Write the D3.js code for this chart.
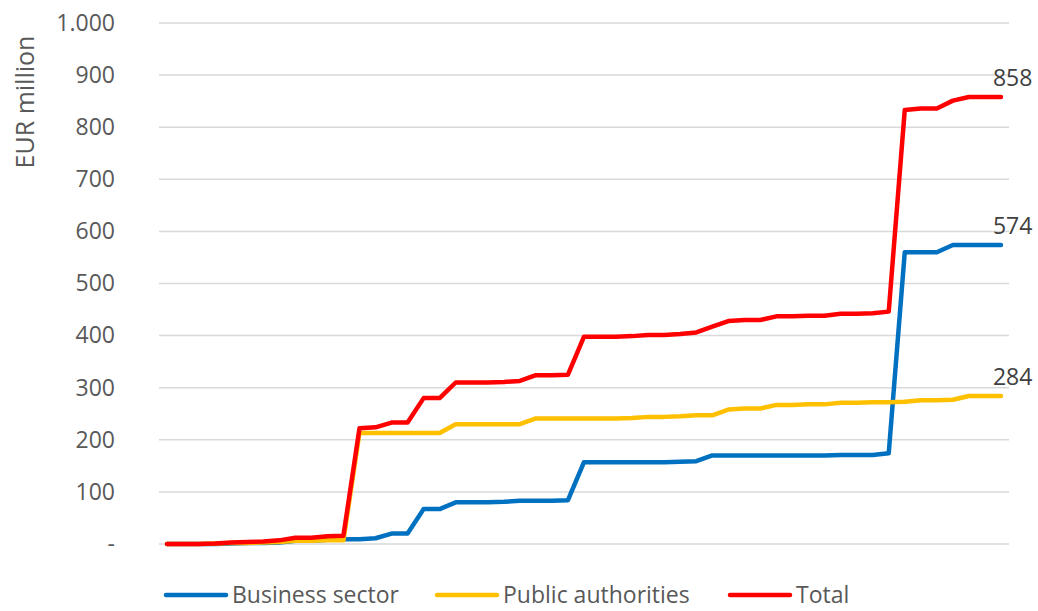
<!DOCTYPE html>
<html>
<head>
<meta charset="utf-8">
<script src="https://cdn.jsdelivr.net/npm/d3@7"></script>
<style>
  html, body { margin: 0; padding: 0; background: #fff; }
  svg { display: block; font-family: "Open Sans", sans-serif; }
</style>
</head>
<body>
<svg id="chart" width="1038" height="611"></svg>
<script>
// ---- data ----
const periods = d3.range(1, 54).map(String); // 53 unlabeled periods
const businessSector = [0,0,0,0,1,2,2,3,6,6,8,9,9,11,20,20,67,67,80,80,80,81,83,83,83,84,157,157,157,157,157,157,158,159,170,170,170,170,170,170,170,170,171,171,171,174,560,560,560,574,574,574,574];
const publicAuthorities = [0,0,0,1,2,2,3,4,6,6,7,7,213,213,213,213,213,213,230,230,230,230,230,241,241,241,241,241,241,242,244,244,245,247,247,258,260,260,267,267,268,268,271,271,272,272,273,276,276,277,284,284,284];
const total = [0,0,0,1,3,4,5,7,12,12,15,16,222,224,233,233,280,280,310,310,310,311,313,324,324,325,398,398,398,399,401,401,403,406,417,428,430,430,437,437,438,438,442,442,443,446,833,836,836,851,858,858,858];
const yTicks = [0,100,200,300,400,500,600,700,800,900,1000];
const seriesNames = ["Business sector", "Public authorities", "Total"];
const seriesColors = ["#0070C0", "#FFC000", "#FF0000"];
const seriesValues = [businessSector, publicAuthorities, total];

// ---- layout ----
const svg = d3.select("#chart");
const plot = { left: 159, right: 1009, top: 23, bottom: 544 };

const x = d3.scalePoint().domain(periods).range([plot.left, plot.right]).padding(0.5);
const y = d3.scaleLinear().domain([0, 1000]).range([plot.bottom, plot.top]);

const fmt = v => v === 0 ? "-" : d3.format(",")(v).replace(/,/g, ".");

// gridlines
svg.append("g")
  .selectAll("line")
  .data(yTicks)
  .join("line")
  .attr("x1", plot.left).attr("x2", plot.right)
  .attr("y1", d => y(d)).attr("y2", d => y(d))
  .attr("stroke", "#D9D9D9").attr("stroke-width", 1.5);

// y axis labels
const yAxis = d3.axisLeft(y).tickValues(yTicks).tickFormat(fmt).tickSize(0).tickPadding(0);
const gy = svg.append("g").attr("transform", "translate(115,0)").call(yAxis);
gy.select(".domain").remove();
gy.selectAll("text")
  .attr("fill", "#595959")
  .style("font-size", "23px")
  .style("font-family", "'Open Sans', sans-serif");

// y axis title
svg.append("text")
  .attr("transform", "translate(25,102) rotate(-90)")
  .attr("text-anchor", "middle")
  .attr("dy", "0.35em")
  .attr("fill", "#595959")
  .style("font-size", "25px")
  .text("EUR million");

// lines
const line = d3.line().x((d, i) => x(periods[i])).y(d => y(d));
svg.append("g")
  .selectAll("path")
  .data(seriesValues)
  .join("path")
  .attr("d", d => line(d))
  .attr("fill", "none")
  .attr("stroke", (d, i) => seriesColors[i])
  .attr("stroke-width", 4.5)
  .attr("stroke-linejoin", "round")
  .attr("stroke-linecap", "round");

// end labels
svg.append("g")
  .selectAll("text")
  .data(seriesValues)
  .join("text")
  .attr("x", d => x(periods[periods.length - 1]) - 8)
  .attr("y", d => y(d[d.length - 1]) - 11)
  .attr("fill", "#404040")
  .style("font-size", "23px")
  .text(d => d[d.length - 1]);

// legend
const legendX = [166, 437, 730];
const lg = svg.append("g")
  .selectAll("g")
  .data(seriesNames)
  .join("g")
  .attr("transform", (d, i) => `translate(${legendX[i]},595)`);
lg.append("line")
  .attr("x1", 0).attr("x2", 60)
  .attr("stroke", (d, i) => seriesColors[i])
  .attr("stroke-width", 4.5)
  .attr("stroke-linecap", "round");
lg.append("text")
  .attr("x", 66)
  .attr("dy", "0.35em")
  .attr("fill", "#595959")
  .style("font-size", "23px")
  .text(d => d);
</script>
</body>
</html>
